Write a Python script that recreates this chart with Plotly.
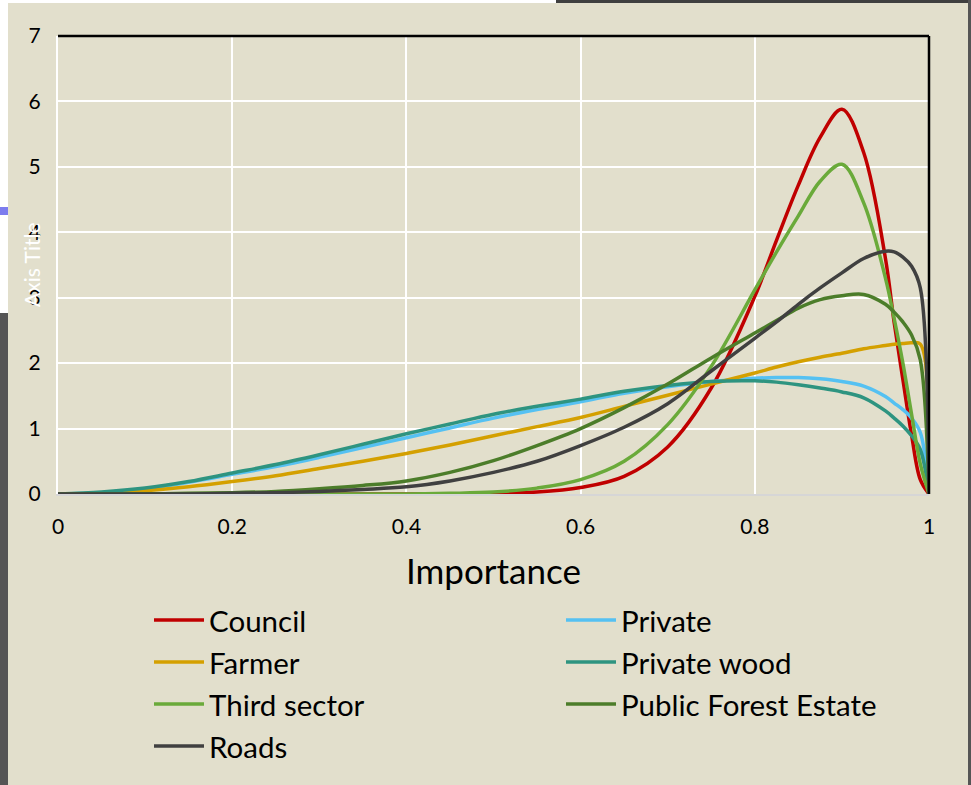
import plotly.graph_objects as go

# ---- data ----
importance = [0, 0.05, 0.1, 0.15, 0.2, 0.25, 0.3, 0.35, 0.4, 0.45, 0.5, 0.55, 0.6, 0.65,
              0.7, 0.75, 0.8, 0.825, 0.85, 0.875, 0.9, 0.925, 0.95, 0.96, 0.97, 0.98, 0.99, 1.0]

council = [0, 0, 0, 0, 0, 0, 0, 0, 0, 0, 0.01, 0.03, 0.1, 0.27,
           0.72, 1.62, 3.02, 3.88, 4.72, 5.45, 5.88, 5.22, 3.6, 2.62, 1.75, 0.9, 0.22, 0]
private = [0, 0.02, 0.08, 0.18, 0.30, 0.42, 0.56, 0.71, 0.86, 1.01, 1.16, 1.29, 1.41, 1.54,
           1.64, 1.72, 1.77, 1.78, 1.78, 1.76, 1.72, 1.65, 1.49, 1.39, 1.29, 1.16, 0.94, 0]
farmer = [0, 0.01, 0.05, 0.11, 0.19, 0.28, 0.39, 0.50, 0.62, 0.75, 0.89, 1.03, 1.17, 1.34,
          1.51, 1.68, 1.85, 1.94, 2.02, 2.09, 2.15, 2.22, 2.27, 2.29, 2.30, 2.31, 2.29, 0]
private_wood = [0, 0.03, 0.09, 0.19, 0.32, 0.45, 0.60, 0.76, 0.92, 1.07, 1.22, 1.34, 1.45, 1.57,
                1.66, 1.72, 1.73, 1.71, 1.67, 1.62, 1.56, 1.47, 1.27, 1.16, 1.04, 0.89, 0.68, 0]
third_sector = [0, 0, 0, 0, 0, 0, 0, 0, 0, 0.01, 0.03, 0.09, 0.22, 0.5,
                1.06, 1.95, 3.12, 3.7, 4.25, 4.78, 5.04, 4.45, 3.3, 2.68, 2.0, 1.22, 0.46, 0]
public_forest = [0, 0, 0, 0.01, 0.02, 0.04, 0.08, 0.13, 0.2, 0.33, 0.51, 0.74, 1.0, 1.32,
                 1.68, 2.08, 2.46, 2.65, 2.84, 2.97, 3.03, 3.05, 2.9, 2.78, 2.63, 2.43, 2.05, 0]
roads = [0, 0, 0, 0, 0.01, 0.02, 0.04, 0.07, 0.11, 0.2, 0.33, 0.5, 0.74, 1.02,
         1.38, 1.88, 2.38, 2.63, 2.9, 3.15, 3.38, 3.6, 3.71, 3.70, 3.62, 3.48, 3.15, 0]

series_names = ["Council", "Private", "Farmer", "Private wood", "Third sector",
                "Public Forest Estate", "Roads"]
series_values = [council, private, farmer, private_wood, third_sector, public_forest, roads]
series_colors = ["#C00000", "#55C1F2", "#D4A000", "#2E9480", "#6AAA3A", "#4C7D2A", "#404040"]

x_ticks = [0, 0.2, 0.4, 0.6, 0.8, 1]
x_tick_text = ["0", "0.2", "0.4", "0.6", "0.8", "1"]
y_ticks = [0, 1, 2, 3, 4, 5, 6, 7]

# ---- figure ----
W, H = 971, 785
L, R, T, B = 58, 929, 36, 494
BG = "#E2DFCC"
FONT = "Lato, 'Open Sans', sans-serif"

fig = go.Figure()
for name, vals, col in zip(series_names, series_values, series_colors):
    fig.add_trace(go.Scatter(
        x=importance, y=vals, mode="lines",
        name='<span style="font-size:29.5px">' + name + '</span>',
        hovertemplate=name + ": %{y}<extra></extra>",
        line=dict(color=col, width=3.5, shape="spline", smoothing=1.0)))


def px(xp):
    return (xp - L) / (R - L)


def py(yp):
    return (B - yp) / (B - T)


fig.update_layout(
    width=W, height=H,
    margin=dict(l=L, r=W - R, t=T, b=H - B, autoexpand=False),
    paper_bgcolor=BG, plot_bgcolor=BG,
    font=dict(family=FONT, color="#000000"),
    showlegend=True,
    legend=dict(orientation="h", xref="container", yref="container",
                x=149 / W, y=1 - 594 / H, xanchor="left", yanchor="top",
                entrywidth=347, entrywidthmode="pixels", itemwidth=50,
                font=dict(size=30, family=FONT, color="#000000"),
                bgcolor="rgba(0,0,0,0)", traceorder="normal"),
    xaxis=dict(range=[0, 1], tickvals=x_ticks, ticktext=x_tick_text, automargin=False,
               showgrid=True, gridcolor="#FFFFFF", gridwidth=2,
               zeroline=False, showline=True, linecolor="#D6D6D6", linewidth=2,
               ticks="outside", ticklen=13, tickcolor="rgba(0,0,0,0)",
               tickfont=dict(size=21, family=FONT, color="#000000"),
               title=dict(text="Importance", font=dict(size=35, family=FONT, color="#000000"),
                          standoff=22)),
    yaxis=dict(range=[0, 7], tickvals=y_ticks, automargin=False,
               showgrid=True, gridcolor="#FFFFFF", gridwidth=2,
               zeroline=False, showline=True, linecolor="#FFFFFF", linewidth=2,
               ticks="outside", ticklen=11, tickcolor="rgba(0,0,0,0)",
               tickfont=dict(size=21, family=FONT, color="#000000")),
)

# frame lines (top and right) of the plot area
fig.add_shape(type="line", xref="x domain", yref="y domain", x0=0, x1=1, y0=1, y1=1,
              line=dict(color="#000000", width=2.5))
fig.add_shape(type="line", xref="x domain", yref="y domain", x0=1, x1=1, y0=0, y1=1,
              line=dict(color="#000000", width=2.5))

# screenshot edges
fig.add_shape(type="rect", xref="paper", yref="paper", x0=px(0), x1=px(556), y0=py(3), y1=py(0),
              fillcolor="#FFFFFF", line=dict(width=0), layer="above")
fig.add_shape(type="rect", xref="paper", yref="paper", x0=px(556), x1=px(971), y0=py(3), y1=py(0),
              fillcolor="#3F3F3F", line=dict(width=0), layer="above")
fig.add_shape(type="rect", xref="paper", yref="paper", x0=px(0), x1=px(8), y0=py(313), y1=py(0),
              fillcolor="#FFFFFF", line=dict(width=0), layer="above")
fig.add_shape(type="rect", xref="paper", yref="paper", x0=px(0), x1=px(8), y0=py(215), y1=py(207),
              fillcolor="#7C7CEE", line=dict(width=0), layer="above")
fig.add_shape(type="rect", xref="paper", yref="paper", x0=px(0), x1=px(8), y0=py(785), y1=py(313),
              fillcolor="#555555", line=dict(width=0), layer="above")
fig.add_shape(type="rect", xref="paper", yref="paper", x0=px(968), x1=px(971), y0=py(785), y1=py(0),
              fillcolor="#555555", line=dict(width=0), layer="above")

# y axis title (white, as in the reference)
fig.add_annotation(text="Axis Title", xref="paper", yref="paper", x=px(31), y=0.5,
                   textangle=-90, showarrow=False, xanchor="center", yanchor="middle",
                   font=dict(size=21, family=FONT, color="#FFFFFF"))

fig.write_html("out.html")
